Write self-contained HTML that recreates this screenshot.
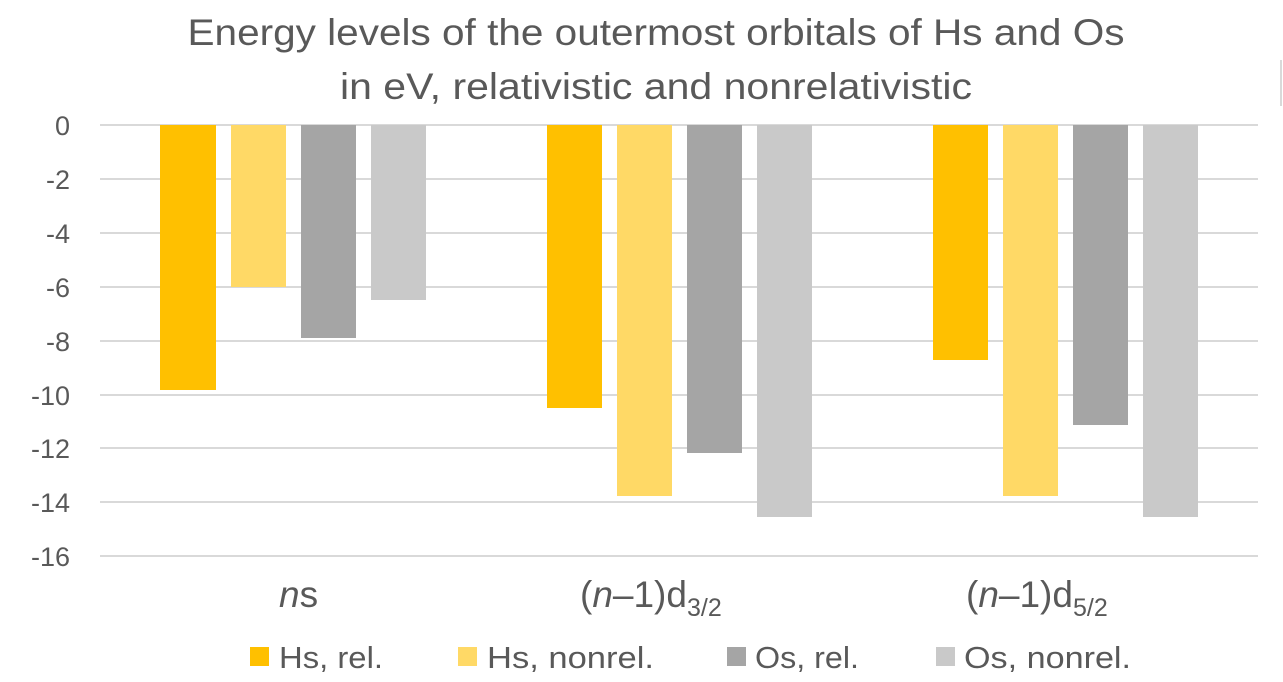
<!DOCTYPE html>
<html><head><meta charset="utf-8"><style>
body{margin:0;background:#fff;}
svg{display:block;font-family:"Liberation Sans",sans-serif;}
</style></head><body>
<svg width="1283" height="682" xmlns="http://www.w3.org/2000/svg">
<rect width="1283" height="682" fill="#fff"/>
<line x1="1281" y1="60" x2="1281" y2="106" stroke="#d9d9d9" stroke-width="2"/>
<g fill="#595959" font-size="37" text-anchor="middle">
<text x="656" y="45" textLength="937" lengthAdjust="spacingAndGlyphs">Energy levels of the outermost orbitals of Hs and Os</text>
<text x="656" y="99" textLength="632" lengthAdjust="spacingAndGlyphs">in eV, relativistic and nonrelativistic</text>
</g>
<g stroke="#d9d9d9" stroke-width="2">
<line x1="100" y1="125" x2="1258" y2="125"/>
<line x1="100" y1="179" x2="1258" y2="179"/>
<line x1="100" y1="233" x2="1258" y2="233"/>
<line x1="100" y1="287" x2="1258" y2="287"/>
<line x1="100" y1="341" x2="1258" y2="341"/>
<line x1="100" y1="395" x2="1258" y2="395"/>
<line x1="100" y1="448" x2="1258" y2="448"/>
<line x1="100" y1="502" x2="1258" y2="502"/>
<line x1="100" y1="556" x2="1258" y2="556"/>
</g>
<g fill="#595959" font-size="27" text-anchor="end">
<text x="70" y="135">0</text>
<text x="70" y="189">-2</text>
<text x="70" y="243">-4</text>
<text x="70" y="297">-6</text>
<text x="70" y="351">-8</text>
<text x="70" y="405">-10</text>
<text x="70" y="458">-12</text>
<text x="70" y="512">-14</text>
<text x="70" y="566">-16</text>
</g>
<g>
<rect x="160" y="125" width="56" height="265" fill="#FFC000"/>
<rect x="231" y="125" width="55" height="162" fill="#FFD966"/>
<rect x="301" y="125" width="55" height="213" fill="#A5A5A5"/>
<rect x="371" y="125" width="55" height="175" fill="#C9C9C9"/>
<rect x="547" y="125" width="55" height="283" fill="#FFC000"/>
<rect x="617" y="125" width="55" height="371" fill="#FFD966"/>
<rect x="687" y="125" width="55" height="328" fill="#A5A5A5"/>
<rect x="757" y="125" width="55" height="392" fill="#C9C9C9"/>
<rect x="933" y="125" width="55" height="235" fill="#FFC000"/>
<rect x="1003" y="125" width="55" height="371" fill="#FFD966"/>
<rect x="1073" y="125" width="55" height="300" fill="#A5A5A5"/>
<rect x="1143" y="125" width="55" height="392" fill="#C9C9C9"/>
</g>
<g fill="#595959" font-size="37">
<text x="279" y="607"><tspan font-style="italic">n</tspan>s</text>
<text x="580" y="607">(<tspan font-style="italic">n</tspan>–1)d<tspan font-size="25" dy="9">3/2</tspan></text>
<text x="966" y="607">(<tspan font-style="italic">n</tspan>–1)d<tspan font-size="25" dy="9">5/2</tspan></text>
</g>
<g font-size="31" fill="#595959">
<rect x="250" y="647" width="19" height="19" fill="#FFC000"/>
<text x="279" y="668" textLength="104" lengthAdjust="spacingAndGlyphs">Hs, rel.</text>
<rect x="458" y="647" width="19" height="19" fill="#FFD966"/>
<text x="487" y="668" textLength="167" lengthAdjust="spacingAndGlyphs">Hs, nonrel.</text>
<rect x="727" y="647" width="19" height="19" fill="#A5A5A5"/>
<text x="755" y="668" textLength="104" lengthAdjust="spacingAndGlyphs">Os, rel.</text>
<rect x="936" y="647" width="19" height="19" fill="#C9C9C9"/>
<text x="964" y="668" textLength="167" lengthAdjust="spacingAndGlyphs">Os, nonrel.</text>
</g>
</svg>
</body></html>
